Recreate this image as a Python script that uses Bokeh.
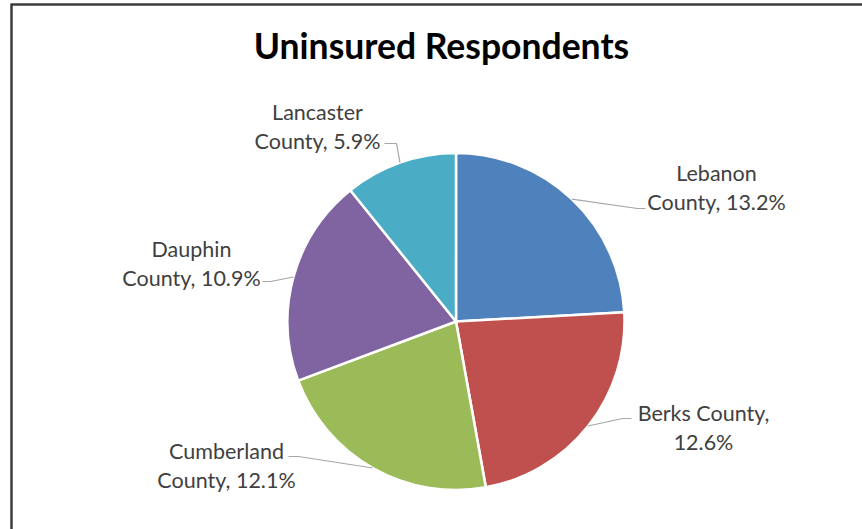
import numpy as np
from bokeh.plotting import figure
from bokeh.models import Range1d, ColumnDataSource
from bokeh.embed import file_html
from bokeh.resources import INLINE
from bokeh.core.properties import value

# Share of uninsured respondents by county (percent)
counties = ["Lebanon", "Berks", "Cumberland", "Dauphin", "Lancaster"]
percents = [13.2, 12.6, 12.1, 10.9, 5.9]
colors = ["#4F81BD", "#C0504D", "#9BBB59", "#8064A2", "#4BACC6"]

W, H = 862, 529


def Y(py):
    # pixel rows run downward; data y runs upward
    return H - py


p = figure(width=W, height=H, x_range=Range1d(0, W), y_range=Range1d(0, H),
           output_backend="svg", toolbar_location=None,
           x_axis_location=None, y_axis_location=None, min_border=0)
p.grid.visible = False
p.outline_line_color = None
p.background_fill_color = "white"
p.border_fill_color = "white"

# chart frame (top and left edges)
p.multi_line(xs=[[10, W], [11, 11]], ys=[[Y(4), Y(4)], [Y(4), Y(H)]],
             line_color="#3c3c3c", line_width=2.5)

# pie geometry
cx, cy, r = 455.5, Y(321), 168.5
vals = np.array(percents, dtype=float)
frac = vals / vals.sum()
cum = np.cumsum(frac)
start = np.pi / 2 - 2 * np.pi * (cum - frac)
end = np.pi / 2 - 2 * np.pi * cum
mid = np.pi / 2 - 2 * np.pi * (cum - frac / 2)

src = ColumnDataSource(dict(start=start, end=end, color=colors))
p.wedge(x=cx, y=cy, radius=r, start_angle="start", end_angle="end",
        direction="clock", fill_color="color", line_color="white",
        line_width=2.5, source=src)

# data labels
labels = [
    f"{counties[0]}\nCounty, {percents[0]}%",
    f"{counties[1]} County,\n{percents[1]}%",
    f"{counties[2]}\nCounty, {percents[2]}%",
    f"{counties[3]}\nCounty, {percents[3]}%",
    f"{counties[4]}\nCounty, {percents[4]}%",
]
label_pos = [(716, 187), (703, 427), (226, 465), (191, 263), (317, 126)]
p.text(x=[a for a, b in label_pos], y=[Y(b) for a, b in label_pos], text=labels,
       text_align="center", text_baseline="middle", text_font=value("Lato"),
       text_font_size="21.5px", text_color="#404040", text_line_height=1.15)

# leader lines: label side -> elbow -> slice edge
leader_start = [(645, 208), (631, 418), (288, 456), (262, 281), (384, 143)]
leader_elbow = [(637, 208), (622, 418), (298, 456), (270, 281), (396, 143)]
xs, ys = [], []
for i in range(len(counties)):
    ex = cx + r * np.cos(mid[i])
    ey = cy + r * np.sin(mid[i])
    xs.append([leader_start[i][0], leader_elbow[i][0], ex])
    ys.append([Y(leader_start[i][1]), Y(leader_elbow[i][1]), ey])
p.multi_line(xs=xs, ys=ys, line_color="#A6A6A6", line_width=1.2)

# title
p.text(x=[441], y=[Y(45)], text=["Uninsured Respondents"], text_align="center",
       text_baseline="middle", text_font=value("Lato"), text_font_style="bold",
       text_font_size="35.5px", text_color="#000000")

open("out.html", "w").write(file_html(p, INLINE))
